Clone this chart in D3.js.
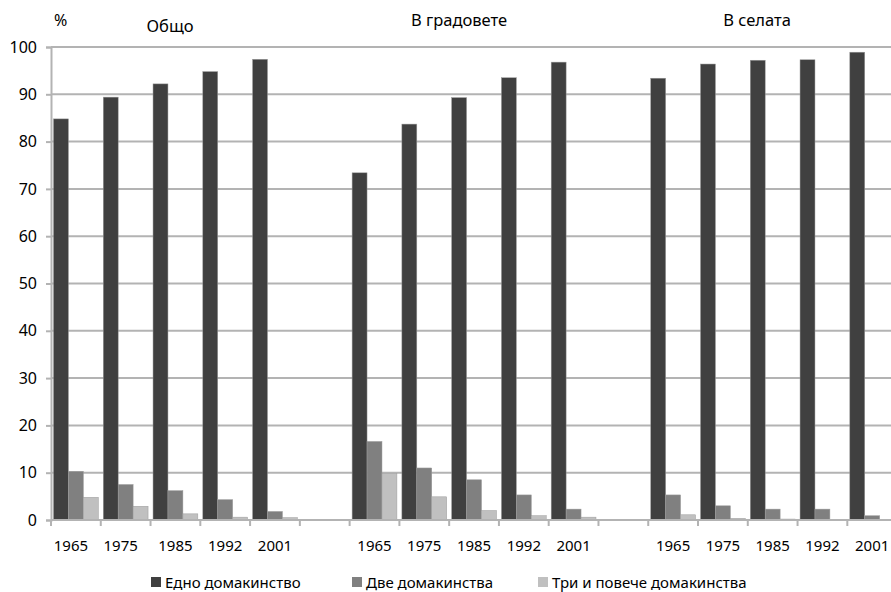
<!DOCTYPE html>
<html>
<head>
<meta charset="utf-8">
<script src="https://cdn.jsdelivr.net/npm/d3@7"></script>
<style>
  body { margin: 0; background: #fff; }
  svg { display: block; font-family: "Noto Sans", sans-serif; }
</style>
</head>
<body>
<div id="chart"></div>
<script>
const groups = ["Общо", "В градовете", "В селата"];
const years = ["1965", "1975", "1985", "1992", "2001"];
const series = ["Едно домакинство", "Две домакинства", "Три и повече домакинства"];
const colors = ["#404040", "#808080", "#c0c0c0"];

// values per group, one row per series, in year order
const totalVals = [
  [84.8, 89.4, 92.2, 94.8, 97.4],
  [10.3, 7.5, 6.2, 4.3, 1.8],
  [4.8, 2.9, 1.3, 0.6, 0.5]
];
const townVals = [
  [73.4, 83.7, 89.3, 93.5, 96.8],
  [16.6, 11.0, 8.5, 5.3, 2.3],
  [9.8, 4.9, 2.0, 0.9, 0.6]
];
const villageVals = [
  [93.4, 96.4, 97.2, 97.3, 98.9],
  [5.3, 3.0, 2.3, 2.3, 0.9],
  [1.1, 0.35, 0.2, 0.1, 0.1]
];
const groupVals = [totalVals, townVals, villageVals];
const yTicks = [0, 10, 20, 30, 40, 50, 60, 70, 80, 90, 100];

const width = 891, height = 592;
const margin = { top: 47, left: 51, bottom: 72 };
const slotW = 49.77;

// build the 17 category slots (empty slot between groups)
const slots = [];
groups.forEach((g, gi) => {
  years.forEach((yr, yi) => slots.push({ key: g + "-" + yr, label: yr, group: gi, year: yi }));
  if (gi < groups.length - 1) slots.push({ key: "gap-" + gi, label: "", group: -1 });
});

const svg = d3.select("#chart").append("svg")
  .attr("width", width)
  .attr("height", height);

const x0 = d3.scaleBand()
  .domain(slots.map(d => d.key))
  .range([margin.left, margin.left + slotW * slots.length]);

const x1 = d3.scaleBand()
  .domain(series)
  .range([0, x0.bandwidth()])
  .paddingOuter(1 / 6);

const y = d3.scaleLinear()
  .domain([0, 100])
  .range([height - margin.bottom, margin.top]);

// gridlines
svg.append("g")
  .selectAll("line")
  .data(yTicks.slice(1))
  .enter().append("line")
  .attr("x1", margin.left)
  .attr("x2", width)
  .attr("y1", d => y(d))
  .attr("y2", d => y(d))
  .style("stroke", "#b3b3b3")
  .style("stroke-width", 2);

// y axis
const yAxis = svg.append("g")
  .attr("transform", "translate(" + margin.left + ",0)")
  .call(d3.axisLeft(y).tickValues(yTicks).tickSize(5).tickPadding(9));
yAxis.select(".domain").style("stroke", "#b3b3b3").style("stroke-width", 2);
yAxis.selectAll(".tick line").style("stroke", "#b3b3b3").style("stroke-width", 2);
yAxis.selectAll("text")
  .style("font-size", "16px")
  .style("fill", "#000")
  .style("font-family", "'Noto Sans', sans-serif");

// bars
const bars = [];
slots.forEach(s => {
  if (s.group < 0) return;
  series.forEach((ser, si) => {
    bars.push({ slot: s.key, series: ser, si: si, value: groupVals[s.group][si][s.year] });
  });
});

svg.append("g")
  .selectAll("rect")
  .data(bars)
  .enter().append("rect")
  .attr("x", d => x0(d.slot) + x1(d.series))
  .attr("y", d => y(d.value))
  .attr("width", x1.bandwidth())
  .attr("height", d => y(0) - y(d.value))
  .style("fill", d => colors[d.si])
  .style("stroke", "#9a9a9a")
  .style("stroke-width", 0.5);

// x axis line and boundary ticks
const xg = svg.append("g");
xg.append("line")
  .attr("x1", margin.left)
  .attr("x2", width)
  .attr("y1", y(0))
  .attr("y2", y(0))
  .style("stroke", "#b3b3b3")
  .style("stroke-width", 2);

xg.selectAll(".bound")
  .data(slots.map(d => x0(d.key)).concat([x0.range()[1]]))
  .enter().append("line")
  .attr("class", "bound")
  .attr("x1", d => d)
  .attr("x2", d => d)
  .attr("y1", y(0))
  .attr("y2", y(0) + 6)
  .style("stroke", "#b3b3b3")
  .style("stroke-width", 2);

// first two labels sit a little left of their slot centre in the original
xg.selectAll(".xlabel")
  .data(slots.filter(d => d.label))
  .enter().append("text")
  .attr("class", "xlabel")
  .attr("x", (d, i) => x0(d.key) + x0.bandwidth() / 2 - (i < 2 ? 5 : 0))
  .attr("y", 551)
  .attr("text-anchor", "middle")
  .style("font-size", "15px")
  .text(d => d.label);

// group titles
const titleX = [170, 459, 757];
const titleY = [32, 26, 26];
svg.selectAll(".gtitle")
  .data(groups)
  .enter().append("text")
  .attr("class", "gtitle")
  .attr("x", (d, i) => titleX[i])
  .attr("y", (d, i) => titleY[i])
  .attr("text-anchor", "middle")
  .style("font-size", "16.5px")
  .text(d => d);

svg.append("text")
  .attr("x", 54)
  .attr("y", 26)
  .style("font-size", "16px")
  .text("%");

// legend
const legendX = [151, 352, 538];
const legend = svg.selectAll(".legend")
  .data(series)
  .enter().append("g")
  .attr("class", "legend")
  .attr("transform", (d, i) => "translate(" + legendX[i] + ",0)");

legend.append("rect")
  .attr("x", 0)
  .attr("y", 577)
  .attr("width", 10)
  .attr("height", 10)
  .style("fill", (d, i) => colors[i]);

legend.append("text")
  .attr("x", 14)
  .attr("y", 588)
  .style("font-size", "15px")
  .text(d => d);
</script>
</body>
</html>
